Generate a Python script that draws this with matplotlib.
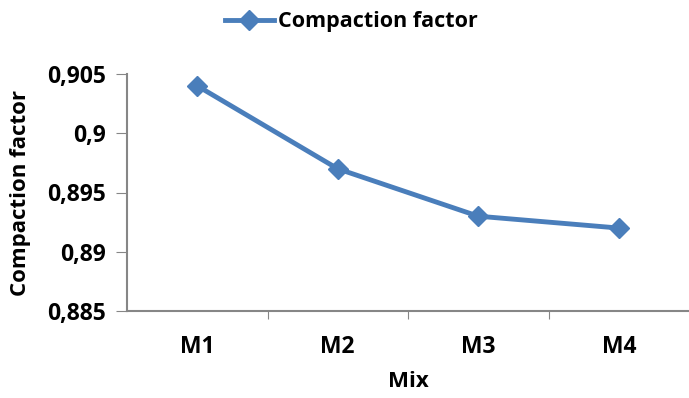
import matplotlib
matplotlib.use("Agg")
import matplotlib.pyplot as plt

mixes = ["M1", "M2", "M3", "M4"]
compaction = [0.904, 0.897, 0.893, 0.892]
yticks = [0.885, 0.89, 0.895, 0.9, 0.905]
ytick_labels = ["0,885", "0,89", "0,895", "0,9", "0,905"]

plt.rcParams['font.family'] = ['Open Sans', 'DejaVu Sans']
plt.rcParams['font.weight'] = 'bold'

fig = plt.figure(figsize=(6.89, 3.98), dpi=100)
ax = fig.add_axes([127 / 689, 87 / 398, 562 / 689, 237 / 398])

x = [i + 0.5 for i in range(len(mixes))]
ax.plot(x, compaction, color='#4A7EBB', linewidth=3.5, marker='D', markersize=10,
        label='Compaction factor')

ax.set_xlim(0, 4)
ax.set_ylim(0.885, 0.905)
ax.set_yticks(yticks)
ax.set_yticklabels(ytick_labels)
ax.set_xticks([1, 2, 3])
ax.set_xticklabels([])
ax.set_xticks(x, minor=True)
ax.set_xticklabels(mixes, minor=True)
ax.tick_params(axis='x', which='minor', length=0, pad=17, labelsize=16.5)
ax.tick_params(axis='x', which='major', length=6, color='#868686', direction='out')
ax.tick_params(axis='y', length=8, color='#868686', direction='out', labelsize=16.5, pad=7)

for s in ['top', 'right']:
    ax.spines[s].set_visible(False)
for s in ['left', 'bottom']:
    ax.spines[s].set_color('#868686')
    ax.spines[s].set_linewidth(1.5)

ax.set_xlabel('Mix', fontsize=16, fontweight='bold', labelpad=9)
ax.set_ylabel('Compaction factor', fontsize=16, fontweight='bold', labelpad=12)

fig.legend(loc='upper center', bbox_to_anchor=(0.51, 1.02), frameon=False,
           prop={'size': 15.5, 'weight': 'bold'}, handlelength=2.3, handletextpad=0.2)

fig.savefig('out.png', dpi=100)
